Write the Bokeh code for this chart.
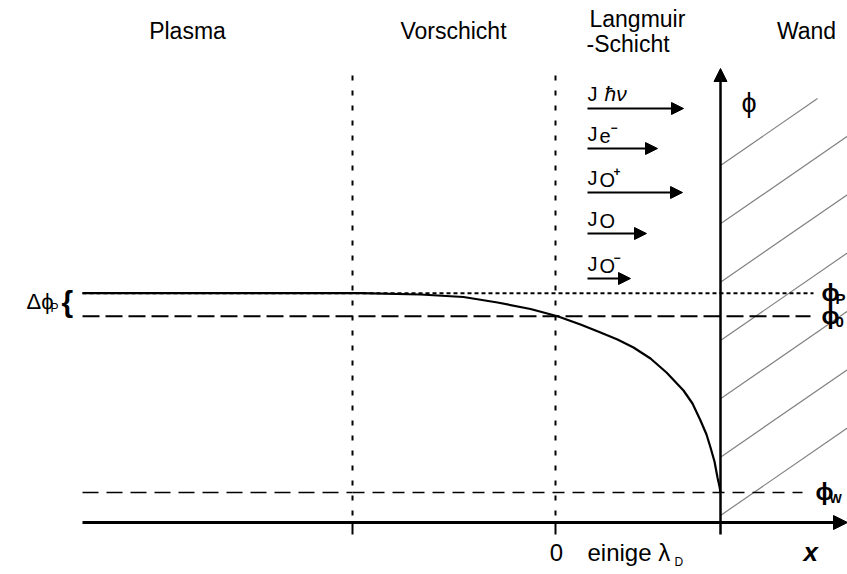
from bokeh.plotting import figure
from bokeh.models import Range1d, Arrow, NormalHead, ColumnDataSource
from bokeh.core.properties import value
from bokeh.embed import file_html
from bokeh.resources import INLINE

FONT = value("Liberation Sans")

# --- diagram geometry (schematic units, y grows downward) ---
x_left = 82                      # left end of the level lines
presheath_x = 352                # Plasma | Vorschicht boundary
sheath_x = 555                   # Vorschicht | Langmuir-Schicht boundary ("0")
wall_x = 720                     # wall surface / potential axis
axis_y = 522                     # x axis
axis_top = 68
x_right = 847

# potential levels
level_names = ["P", "0", "W"]
level_y = [292.7, 315.7, 492]
level_end = [813, 810, 802]
level_label_x = [821, 821, 815]

# potential profile phi(x) from plasma to wall
potential_x = [82, 360, 420, 463, 497, 530, 557, 580, 600, 617, 633, 650, 666, 683, 692, 700, 706, 710, 714, 717, 719, 720]
potential_y = [292.7, 292.7, 294, 296.5, 302, 308.5, 315.7, 324, 332, 339, 347, 358, 372, 390, 403, 420, 434, 447, 461, 477, 486, 492]

# particle / photon fluxes towards the wall
flux_species = ["ħν", "e", "O", "O", "O"]
flux_charge = ["", "−", "+", "", "−"]
flux_y = [108, 148, 192, 233, 278]
flux_x0 = [587, 587, 587, 587, 587]
flux_x1 = [683, 657, 682, 646, 630]

# wall hatching
hatch_y0 = [165, 223.3, 281.7, 340, 398.3, 456.7, 515]
hatch_x1 = [817, 847, 847, 847, 847, 847, 847]
hatch_slope = -0.69

zone_names = ["Plasma", "Vorschicht", "Wand"]
zone_x = [187, 453, 806]

p = figure(width=847, height=574, x_range=Range1d(0, 847), y_range=Range1d(574, 0),
           toolbar_location=None, output_backend="svg", min_border=0,
           x_axis_type=None, y_axis_type=None, outline_line_color=None)
p.grid.visible = False
p.background_fill_color = "white"
p.border_fill_color = "white"


def label(x, y, text, size, align="left", style="normal"):
    """Place text with its baseline at y (size in px)."""
    px = float(size.rstrip("px"))
    p.text(x=[x], y=[y - 0.36 * px], text=[text], text_font=FONT, text_font_size=value(size),
           text_align=align, text_baseline="alphabetic", text_font_style=style, text_color="black")


# wall hatching
hx0 = [wall_x] * len(hatch_y0)
hy1 = [y0 + hatch_slope * (x1 - wall_x) for y0, x1 in zip(hatch_y0, hatch_x1)]
p.segment(x0=hx0, y0=hatch_y0, x1=hatch_x1, y1=hy1, line_color="#808080", line_width=1.2)

# region boundaries
p.segment(x0=[presheath_x, sheath_x], y0=[75, 75], x1=[presheath_x, sheath_x], y1=[axis_y, axis_y],
          line_color="black", line_width=2, line_dash="5 10")

# level lines
p.line([x_left, level_end[0]], [level_y[0]] * 2, line_color="black", line_width=2, line_dash="4 3")
p.line([x_left, level_end[1]], [level_y[1]] * 2, line_color="black", line_width=2, line_dash="17 6")
p.line([x_left, presheath_x], [level_y[2]] * 2, line_color="black", line_width=1.6, line_dash="16 8")
p.line([presheath_x, level_end[2]], [level_y[2]] * 2, line_color="black", line_width=1.6, line_dash="12 8")

# potential curve
p.line(potential_x, potential_y, line_color="black", line_width=2.2, line_join="round")

# axes
p.add_layout(Arrow(end=NormalHead(size=14, fill_color="black", line_color="black"),
                   x_start=x_left, y_start=axis_y, x_end=x_right, y_end=axis_y,
                   line_color="black", line_width=3))
p.add_layout(Arrow(end=NormalHead(size=13, fill_color="black", line_color="black"),
                   x_start=wall_x, y_start=534, x_end=wall_x, y_end=axis_top,
                   line_color="black", line_width=2.5))
p.segment(x0=[presheath_x, sheath_x], y0=[axis_y] * 2, x1=[presheath_x, sheath_x], y1=[534] * 2,
          line_color="black", line_width=2)

# flux arrows
flux_src = ColumnDataSource(dict(x0=flux_x0, x1=flux_x1, y=flux_y))
p.add_layout(Arrow(end=NormalHead(size=12, fill_color="black", line_color="black"),
                   source=flux_src, x_start="x0", y_start="y", x_end="x1", y_end="y",
                   line_color="black", line_width=2))
for sp, ch, y, x0 in zip(flux_species, flux_charge, flux_y, flux_x0):
    label(x0, y - 7, "J", "20px")
    if sp == "ħν":
        label(x0 + 17, y - 7, sp, "21px", style="italic")
    else:
        label(x0 + 12, y - 5, sp, "20px")
        off = 23 if sp == "e" else 26
        if ch:
            label(x0 + off, y - 17, ch, "12px", style="bold")

# zone names
for name, x in zip(zone_names, zone_x):
    label(x, 39, name, "23px", align="center")
label(589, 27, "Langmuir", "23px")
label(586, 52, "-Schicht", "23px")

# potential labels
label(741, 112, "ϕ", "27px")
label(26, 309, "Δϕ", "22px")
label(50, 312, "P", "12px")
label(61, 312, "{", "30px", style="bold")
for name, y, lx in zip(level_names, level_y, level_label_x):
    label(lx, y + 8, "ϕ", "24px", style="bold")
    label(lx + 14, y + 11, name, "13px" if name == "W" else "15px", style="bold")

# x axis labels
label(sheath_x + 1, 561, "0", "24px", align="center")
label(587, 561, "einige λ", "24px")
label(674, 566, "D", "12px")
label(803, 561, "x", "26px", style="bold italic")

open("out.html", "w").write(file_html(p, INLINE))
